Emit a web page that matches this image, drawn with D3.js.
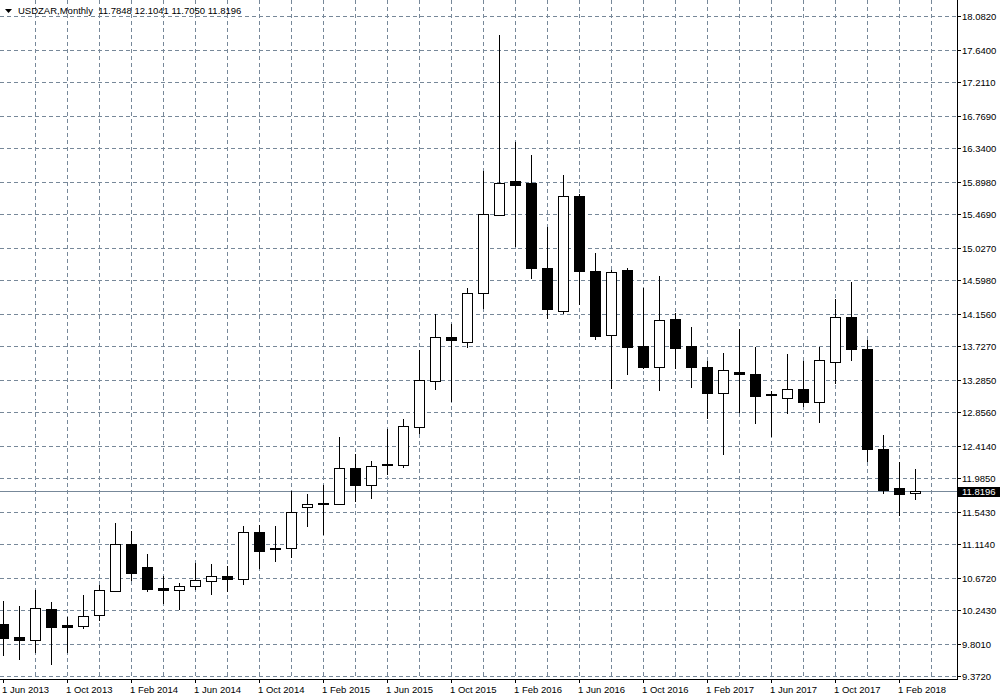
<!DOCTYPE html>
<html><head><meta charset="utf-8">
<script src="https://cdn.jsdelivr.net/npm/d3@7"></script>
<style>
body{margin:0;background:#fff}
svg{display:block}
text{font-family:"Liberation Sans",Arial,sans-serif;font-size:9.5px;fill:#000}
</style>
</head><body><svg id="c" width="1000" height="700"></svg>
<script>
const months = ["2013-06","2013-07","2013-08","2013-09","2013-10","2013-11","2013-12",
"2014-01","2014-02","2014-03","2014-04","2014-05","2014-06","2014-07","2014-08","2014-09","2014-10","2014-11","2014-12",
"2015-01","2015-02","2015-03","2015-04","2015-05","2015-06","2015-07","2015-08","2015-09","2015-10","2015-11","2015-12",
"2016-01","2016-02","2016-03","2016-04","2016-05","2016-06","2016-07","2016-08","2016-09","2016-10","2016-11","2016-12",
"2017-01","2017-02","2017-03","2017-04","2017-05","2017-06","2017-07","2017-08","2017-09","2017-10","2017-11","2017-12",
"2018-01","2018-02","2018-03"];
const open  = [10.056,9.897,9.849,10.254,10.043,10.033,10.184,
10.501,11.111,10.808,10.531,10.514,10.566,10.632,10.698,10.654,11.279,11.068,11.068,
11.609,11.652,11.649,12.124,11.899,12.176,12.158,12.665,13.272,13.843,13.781,14.433,
15.462,15.902,15.875,14.754,14.190,15.704,14.714,13.879,14.727,13.724,13.456,14.090,
13.734,13.456,13.113,13.381,13.364,13.100,13.047,13.166,12.989,13.522,14.116,13.685,
12.365,11.850,11.7848];
const high  = [10.359,10.293,10.504,10.346,10.148,10.448,10.580,
11.389,11.287,10.980,10.689,10.597,10.865,10.848,10.830,11.349,11.371,11.349,11.811,
11.771,11.894,12.523,12.299,12.207,12.633,12.770,13.672,14.156,14.015,14.494,16.034,
17.828,16.416,16.245,15.299,15.981,15.730,14.952,14.736,14.754,14.490,14.648,14.169,
13.975,13.526,13.632,13.953,13.711,13.140,13.619,13.526,13.711,14.345,14.569,13.803,
12.550,12.194,12.1041];
const low   = [9.656,9.594,9.690,9.532,9.690,10.007,10.109,
10.501,10.636,10.495,10.342,10.254,10.530,10.456,10.501,10.588,10.799,10.887,10.940,
11.353,11.247,11.649,11.683,11.722,12.039,12.132,12.580,13.161,13.002,13.715,14.230,
15.462,15.044,14.626,14.098,14.164,14.288,13.821,13.179,13.359,13.440,13.148,13.438,
13.193,12.778,12.303,12.863,12.712,12.537,12.844,12.933,12.725,13.240,13.540,12.216,
11.788,11.498,11.7050];
const close = [9.875,9.849,10.276,10.020,10.020,10.171,10.514,
11.121,10.733,10.522,10.514,10.566,10.636,10.698,10.654,11.279,11.023,11.049,11.543,
11.649,11.640,12.124,11.899,12.145,12.158,12.678,13.276,13.843,13.807,14.433,15.475,
15.885,15.853,14.758,14.217,15.704,14.718,13.860,14.710,13.715,13.451,14.077,13.702,
13.451,13.108,13.417,13.359,13.068,13.082,13.166,12.989,13.549,14.116,13.689,12.369,
11.828,11.775,11.8196];
const priceTicks = [18.0820,17.6400,17.2110,16.7690,16.3400,15.8980,15.4690,15.0270,14.5980,14.1560,
13.7270,13.2850,12.8560,12.4140,11.9850,11.5430,11.1140,10.6720,10.2430,9.8010,9.3720];
const dateTicks  = ["2013-06","2013-10","2014-02","2014-06","2014-10","2015-02","2015-06","2015-10",
"2016-02","2016-06","2016-10","2017-02","2017-06","2017-10","2018-02"];
const dateLabels = ["1 Jun 2013","1 Oct 2013","1 Feb 2014","1 Jun 2014","1 Oct 2014","1 Feb 2015","1 Jun 2015","1 Oct 2015",
"1 Feb 2016","1 Jun 2016","1 Oct 2016","1 Feb 2017","1 Jun 2017","1 Oct 2017","1 Feb 2018"];
const gridMonths = ["2013-08","2013-10","2013-12","2014-02","2014-04","2014-06","2014-08","2014-10","2014-12",
"2015-02","2015-04","2015-06","2015-08","2015-10","2015-12","2016-02","2016-04","2016-06","2016-08","2016-10","2016-12",
"2017-02","2017-04","2017-06","2017-08","2017-10","2017-12","2018-02","2018-04"];
const symbolName = "USDZAR,Monthly";
const lastPrice = 11.8196;

const plotRight = 957, plotBottom = 679;
const svg = d3.select("#c");
const data = months.map((m,i)=>({m, o:open[i], h:high[i], l:low[i], c:close[i]}));

const allMonths = months.concat(["2018-04"]);
const x = d3.scalePoint().domain(allMonths).range([3.5, 931.5]);
const y = d3.scaleLinear().domain([9.372, 18.082]).range([676.3, 16]);
const py = v => Math.round(y(v)) + 0.5;

const gridColor = "#778899";
const g = svg.append("g");

g.selectAll("line.hg").data(priceTicks).join("line")
  .attr("x1",0).attr("x2",plotRight).attr("y1",d=>py(d)).attr("y2",d=>py(d))
  .attr("stroke",gridColor).attr("stroke-width",1).attr("stroke-dasharray","4,3");
g.selectAll("line.vg").data(gridMonths).join("line")
  .attr("x1",d=>x(d)).attr("x2",d=>x(d)).attr("y1",0).attr("y2",plotBottom)
  .attr("stroke",gridColor).attr("stroke-width",1).attr("stroke-dasharray","4,3");

svg.append("line").attr("x1",0).attr("x2",plotRight)
  .attr("y1",py(lastPrice)).attr("y2",py(lastPrice))
  .attr("stroke",gridColor).attr("stroke-width",1);

const cg = svg.append("g");
cg.selectAll("line.wick").data(data).join("line")
  .attr("x1",d=>x(d.m)).attr("x2",d=>x(d.m))
  .attr("y1",d=>Math.round(y(d.h))).attr("y2",d=>Math.round(y(d.l))+1)
  .attr("stroke","#000").attr("stroke-width",1);
cg.selectAll("rect.body").data(data).join("rect")
  .attr("x",d=>x(d.m)-5).attr("width",10)
  .attr("y",d=>py(Math.max(d.o,d.c)))
  .attr("height",d=>Math.max(0.01, py(Math.min(d.o,d.c)) - py(Math.max(d.o,d.c))))
  .attr("fill",d=>d.c>=d.o?"#fff":"#000")
  .attr("stroke","#000").attr("stroke-width",1);

svg.append("line").attr("x1",plotRight+0.5).attr("x2",plotRight+0.5).attr("y1",0).attr("y2",plotBottom+1)
  .attr("stroke","#000");
svg.append("line").attr("x1",0).attr("x2",plotRight+1).attr("y1",plotBottom+0.5).attr("y2",plotBottom+0.5)
  .attr("stroke","#000");

const ra = svg.append("g");
ra.selectAll("line").data(priceTicks).join("line")
  .attr("x1",plotRight+1).attr("x2",plotRight+4).attr("y1",d=>py(d)).attr("y2",d=>py(d))
  .attr("stroke","#000");
ra.selectAll("text").data(priceTicks).join("text")
  .attr("x",962).attr("y",d=>py(d)+3.4)
  .text(d=>d.toFixed(4));

const ba = svg.append("g");
ba.selectAll("line").data(dateTicks).join("line")
  .attr("x1",d=>x(d)).attr("x2",d=>x(d)).attr("y1",plotBottom+1).attr("y2",plotBottom+4)
  .attr("stroke","#000");
ba.selectAll("text").data(dateTicks).join("text")
  .attr("x",d=>x(d)-1.5).attr("y",692.5)
  .text((d,i)=>dateLabels[i]);

const lp = py(lastPrice);
svg.append("rect").attr("x",958).attr("y",lp-4.5).attr("width",42).attr("height",10).attr("fill","#000");
svg.append("text").attr("x",962).attr("y",lp+3.4).style("fill","#fff").text(lastPrice.toFixed(4));

svg.append("path").attr("d","M5,9 L12,9 L8.5,13 Z").attr("fill","#000");
const last = data[data.length-1];
svg.append("text").attr("x",18).attr("y",14)
  .attr("xml:space","preserve")
  .text(symbolName + "  " + [last.o,last.h,last.l,last.c].map(v=>v.toFixed(4)).join(" "));
</script>
</body></html>
